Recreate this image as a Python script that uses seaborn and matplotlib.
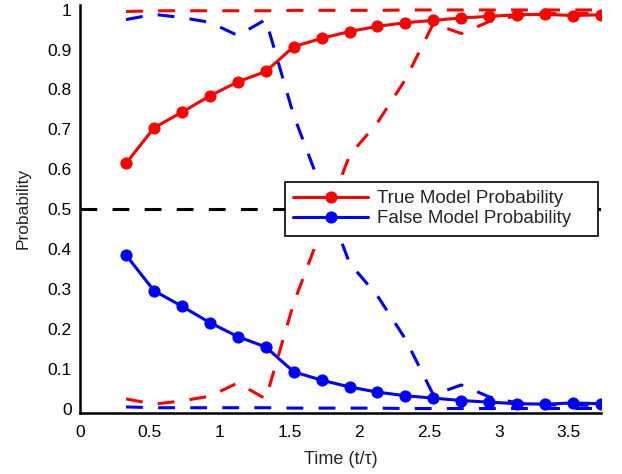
import matplotlib
matplotlib.use("Agg")
import matplotlib.pyplot as plt
import seaborn as sns

# ---- Datos --------------------------------------------------------------------

tiempo = [0.33, 0.53, 0.73, 0.93, 1.13, 1.33, 1.53, 1.73, 1.93,
          2.13, 2.33, 2.53, 2.73, 2.93, 3.13, 3.33, 3.53, 3.73]

prob_verdadero = [0.615, 0.704, 0.743, 0.784, 0.819, 0.845, 0.907, 0.928, 0.945,
                  0.958, 0.967, 0.973, 0.979, 0.983, 0.987, 0.988, 0.985, 0.987]
prob_falso = [0.385, 0.296, 0.257, 0.216, 0.181, 0.155, 0.093, 0.072, 0.055,
              0.042, 0.033, 0.027, 0.021, 0.017, 0.013, 0.012, 0.015, 0.013]

# bandas (lineas discontinuas)
verdadero_sup = [0.995, 0.997, 0.997, 0.997, 0.997, 0.997, 0.998, 0.998, 0.998,
                 0.998, 0.999, 0.999, 0.999, 0.999, 0.999, 0.999, 0.999, 0.999]
verdadero_inf = [0.025, 0.012, 0.020, 0.032, 0.065, 0.025, 0.265, 0.450, 0.635,
                 0.717, 0.825, 0.965, 0.940, 0.970, 0.985, 0.990, 0.990, 0.992]
falso_sup = [0.975, 0.988, 0.980, 0.968, 0.935, 0.975, 0.735, 0.550, 0.365,
             0.283, 0.175, 0.035, 0.060, 0.030, 0.015, 0.010, 0.010, 0.008]
falso_inf = [0.005, 0.003, 0.003, 0.003, 0.003, 0.003, 0.002, 0.002, 0.002,
             0.002, 0.001, 0.001, 0.001, 0.001, 0.001, 0.001, 0.001, 0.001]

xticks = [0, 0.5, 1, 1.5, 2, 2.5, 3, 3.5]
xtick_labels = ["0", "0.5", "1", "1.5", "2", "2.5", "3", "3.5"]
yticks = [0, 0.1, 0.2, 0.3, 0.4, 0.5, 0.6, 0.7, 0.8, 0.9, 1]
ytick_labels = ["0", "0.1", "0.2", "0.3", "0.4", "0.5", "0.6", "0.7", "0.8", "0.9", "1"]

# ---- Estilo -------------------------------------------------------------------

sns.set_style("white")
plt.rcParams["font.family"] = ["Liberation Sans", "DejaVu Sans"]

grosor = 2.2
guion = (0, (5.5, 5))

fig = plt.figure(figsize=(6.22, 4.74), dpi=100)
ax = fig.add_axes([0.1286, 0.1293, 0.8376, 0.8602])

sns.lineplot(x=tiempo, y=prob_verdadero, color="red", marker="o", markersize=8,
             markeredgecolor="red", linewidth=grosor, label="True Model Probability", ax=ax)
sns.lineplot(x=tiempo, y=prob_falso, color="blue", marker="o", markersize=8,
             markeredgecolor="blue", linewidth=grosor, label="False Model Probability", ax=ax)

for serie, color in [(verdadero_sup, "red"), (verdadero_inf, "red"),
                     (falso_sup, "blue"), (falso_inf, "blue")]:
    sns.lineplot(x=tiempo, y=serie, color=color, linestyle=guion,
                 linewidth=grosor, legend=False, ax=ax)

ax.axhline(0.5, color="black", linestyle=guion, linewidth=grosor)

ax.set_xlim(0, 3.73)
ax.set_ylim(-0.0095, 1.0115)
ax.set_xticks(xticks)
ax.set_xticklabels(xtick_labels)
ax.set_yticks(yticks)
ax.set_yticklabels(ytick_labels)
ax.tick_params(direction="in", length=4, width=1.3, labelsize=12.5, colors="black")
ax.tick_params(axis="x", pad=9)
ax.tick_params(axis="y", pad=6)
ax.set_xlabel("Time (t/τ)", fontsize=13, labelpad=8)
ax.set_ylabel("Probability", fontsize=12.5, labelpad=12)

ax.spines[["top", "right"]].set_visible(False)
for lado in ["left", "bottom"]:
    ax.spines[lado].set_color("black")
    ax.spines[lado].set_linewidth(1.8)

# leyenda estirada a lo ancho (caja tipo MATLAB con margen derecho)
handles, labels = ax.get_legend_handles_labels()
leg = ax.legend(handles[:2], labels[:2], loc="upper left",
                bbox_to_anchor=(0.3935, 0.40, 0.6006, 0.1666), mode="expand",
                borderaxespad=0, fancybox=False, framealpha=1, edgecolor="black",
                fontsize=13.5, handlelength=4.0, handletextpad=0.45, labelspacing=0.15,
                borderpad=0.45)
leg.get_frame().set_linewidth(1.2)

fig.savefig("out.png", dpi=100)
